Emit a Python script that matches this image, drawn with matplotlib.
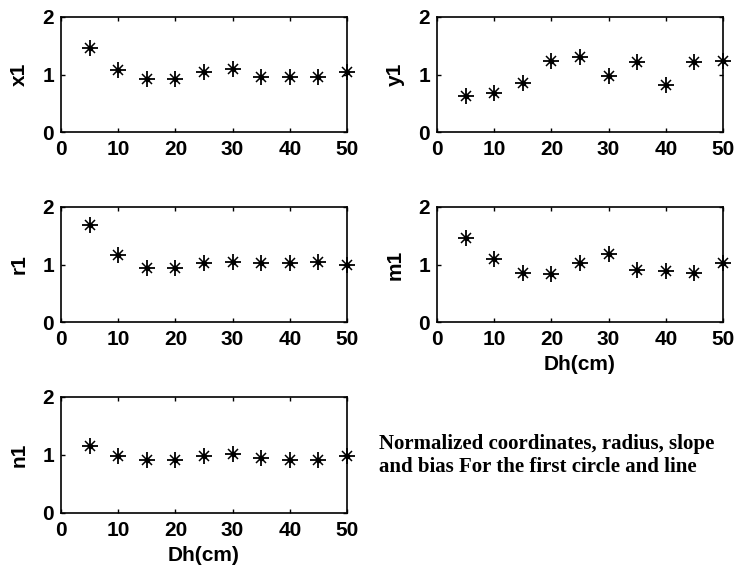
import matplotlib.pyplot as plt
from matplotlib import font_manager
import numpy as np

names = {f.name for f in font_manager.fontManager.ttflist}
sans = 'Liberation Sans Narrow' if 'Liberation Sans Narrow' in names else 'Liberation Sans'
plt.rcParams['font.family'] = sans
plt.rcParams['font.weight'] = 'bold'

Dh = [5, 10, 15, 20, 25, 30, 35, 40, 45, 50]
x1 = [1.46, 1.08, 0.92, 0.92, 1.04, 1.09, 0.95, 0.95, 0.95, 1.04]
y1 = [0.63, 0.68, 0.85, 1.24, 1.30, 0.98, 1.22, 0.82, 1.22, 1.24]
r1 = [1.68, 1.16, 0.94, 0.94, 1.02, 1.05, 1.02, 1.02, 1.05, 1.00]
m1 = [1.46, 1.10, 0.86, 0.83, 1.02, 1.18, 0.91, 0.88, 0.86, 1.02]
n1 = [1.16, 0.99, 0.92, 0.92, 0.99, 1.02, 0.94, 0.92, 0.92, 0.99]

panels = [('x1', x1), ('y1', y1), ('r1', r1), ('m1', m1), ('n1', n1)]
# axes boxes in pixels: left, top, right, bottom
boxes = [(61, 17, 347, 132), (437, 17, 723, 132),
         (61, 207, 347, 322), (437, 207, 723, 322),
         (61, 397, 347, 513)]
W, H = 734, 574

fig = plt.figure(figsize=(W / 100, H / 100), dpi=100)
for i, (name, vals) in enumerate(panels):
    l, t, r, b = boxes[i]
    ax = fig.add_axes([l / W, 1 - b / H, (r - l) / W, (b - t) / H])
    ax.plot(Dh, vals, linestyle='none', marker='+', color='k', markersize=11, markeredgewidth=1.3, clip_on=False)
    ax.plot(Dh, vals, linestyle='none', marker='x', color='k', markersize=7, markeredgewidth=1.1, clip_on=False)
    ax.plot(Dh, vals, linestyle='none', marker='o', color='k', markersize=3, clip_on=False)
    ax.set_xlim(0, 50)
    ax.set_ylim(0, 2)
    ax.set_xticks(np.arange(0, 51, 10))
    ax.set_yticks([0, 1, 2])
    ax.tick_params(direction='in', top=True, right=True, length=3, width=1, labelsize=15)
    ax.tick_params(axis='x', pad=6)
    ax.tick_params(axis='y', pad=5)
    for s in ax.spines.values():
        s.set_linewidth(1.2)
    ax.set_ylabel(name, fontsize=15, fontweight='bold', labelpad=10)
    if name in ('m1', 'n1'):
        ax.set_xlabel('Dh(cm)', fontsize=15, fontweight='bold', labelpad=4)

fig.text(379 / W, 1 - 455 / H, 'Normalized coordinates, radius, slope\nand bias For the first circle and line',
         family='Liberation Serif', fontweight='bold', fontsize=15, va='center', ha='left', linespacing=1.2)

fig.savefig('out.png', dpi=100)
